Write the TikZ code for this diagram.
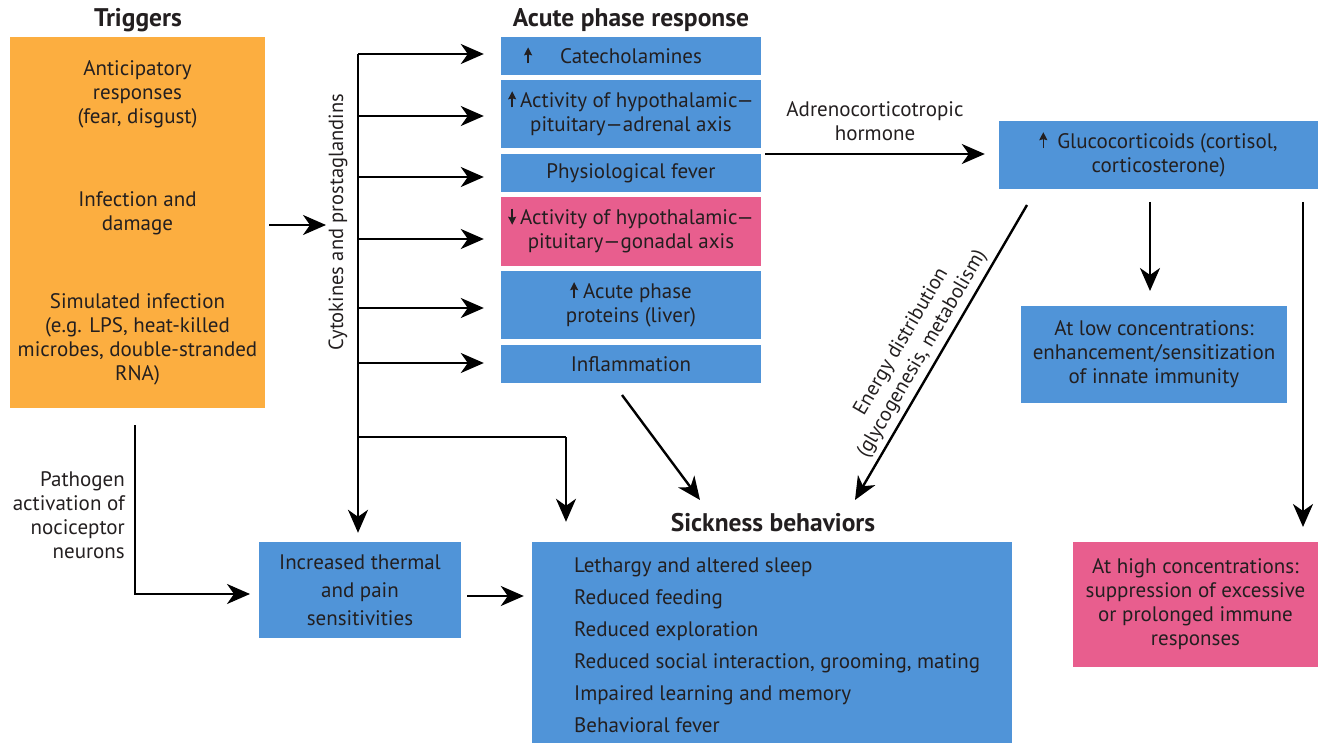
\documentclass[tikz,border=0pt]{standalone}
\usepackage{fontspec}
\setmainfont{PT Sans}
\usetikzlibrary{arrows.meta}
\definecolor{orangebox}{HTML}{FCAE40}
\definecolor{bluebox}{HTML}{5094D8}
\definecolor{pinkbox}{HTML}{E85E8E}
\definecolor{txt}{HTML}{231F20}
\newcommand\uparr{\smash{\tikz[baseline=0pt]\draw[line width=1.4pt,-{Stealth[length=8pt,width=8pt,inset=1pt]}] (0pt,0pt)--(0pt,16pt);}}
\newcommand\dnarr{\smash{\tikz[baseline=0pt]\draw[line width=1.4pt,-{Stealth[length=8pt,width=8pt,inset=1pt]}] (0pt,16pt)--(0pt,0pt);}}
\tikzset{
  box/.style={rectangle, inner sep=0pt, align=center, text=txt},
  lbl/.style={align=center, text=txt, inner sep=0pt},
  title/.style={font=\fontsize{25.5}{28}\selectfont\bfseries, text=txt, inner sep=0pt},
  ln/.style={line width=2.4pt},
  arr/.style={line width=2.4pt, -{Stealth[length=23pt,width=20pt,inset=7pt]}},
}
\begin{document}
\begin{tikzpicture}[x=1pt,y=-1pt,font=\fontsize{21}{24}\selectfont]
\useasboundingbox (0,0) rectangle (1318,743);
% titles
\node[title] (ttrig) at (138,20) {Triggers};
\node[title] (tacute) at (631,20) {Acute phase response};
\node[title] (tsick) at (773,523) {Sickness behaviors};
% triggers
\node[box, fill=orangebox, minimum width=255pt, minimum height=371pt] (trig) at (137.5,222.5) {};
\node[lbl] (trigA) at (137.5,94) {Anticipatory\\responses\\(fear, disgust)};
\node[lbl] (trigB) at (137.5,213) {Infection and\\damage};
\node[lbl] (trigC) at (137.5,339) {Simulated infection\\(e.g. LPS, heat-killed\\microbes, double-stranded\\RNA)};
% acute phase boxes
\node[box, fill=bluebox, minimum width=260pt, minimum height=38pt] (cat) at (631,56) {\makebox[0pt][r]{\uparr\hspace{28pt}}Catecholamines};
\node[box, fill=bluebox, minimum width=260pt, minimum height=68pt] (hpa) at (631,114) {\uparr\hspace{4pt}Activity of hypothalamic—\\pituitary—adrenal axis};
\node[box, fill=bluebox, minimum width=260pt, minimum height=38pt] (fev) at (631,173) {Physiological fever};
\node[box, fill=pinkbox, minimum width=260pt, minimum height=69pt] (hpg) at (631,231.5) {\dnarr\hspace{4pt}Activity of hypothalamic—\\pituitary—gonadal axis};
\node[box, fill=bluebox, minimum width=260pt, minimum height=68pt] (app) at (631,305) {\uparr\hspace{5pt}Acute phase\\proteins (liver)};
\node[box, fill=bluebox, minimum width=260pt, minimum height=38pt] (inf) at (631,364) {Inflammation};
% glucocorticoids
\node[lbl] (acth) at (875,121.5) {Adrenocorticotropic\\hormone};
\node[box, fill=bluebox, minimum width=319pt, minimum height=68pt] (glu) at (1158.5,155) {\uparr\hspace{10pt}Glucocorticoids (cortisol,\\corticosterone)};
\node[box, fill=bluebox, minimum width=266pt, minimum height=97pt] (low) at (1154,354.5) {At low concentrations:\\enhancement/sensitization\\of innate immunity};
\node[box, fill=pinkbox, minimum width=245pt, minimum height=125pt] (high) at (1195.5,604.5) {At high concentrations:\\suppression of excessive\\or prolonged immune\\responses};
% sickness
\node[box, fill=bluebox, minimum width=480pt, minimum height=201pt] (sick) at (772,642.5) {};
\node[lbl, anchor=west, align=left, font=\fontsize{21}{32}\selectfont] (sicktext) at (574,645.5) {Lethargy and altered sleep\\Reduced feeding\\Reduced exploration\\Reduced social interaction, grooming, mating\\Impaired learning and memory\\Behavioral fever};
\node[box, fill=bluebox, minimum width=202pt, minimum height=96pt, font=\fontsize{21}{28}\selectfont] (therm) at (360,590) {Increased thermal\\and pain\\sensitivities};
\node[lbl, anchor=east, align=right] (path) at (125,515) {Pathogen\\activation of\\nociceptor\\neurons};
% rotated labels
\node[lbl, rotate=90, font=\fontsize{20.5}{24}\selectfont] (cyto) at (338,222) {Cytokines and prostaglandins};
\node[lbl, rotate=59.7, font=\fontsize{20.5}{24}\selectfont] (elab) at (912,348) {Energy distribution\\(glycogenesis, metabolism)};
% coordinates
\coordinate (b1) at (358,54);
\coordinate (b2) at (358,116);
\coordinate (b3) at (358,177);
\coordinate (b4) at (358,239);
\coordinate (b5) at (358,308);
\coordinate (b6) at (358,363);
\coordinate (b7) at (358,437);
\coordinate (c7) at (566,437);
\coordinate (ta) at (269,225);
\coordinate (tb) at (326,225);
\coordinate (p0) at (135,425);
\coordinate (p1) at (250,594);
% connectors
\draw[arr] (ta) -- (tb);
\draw[arr] (b1) -- (b1 |- therm.north) [shorten >=9pt];
\foreach \b/\t in {b1/cat,b2/hpa,b3/fev,b4/hpg,b5/app,b6/inf}
  \draw[arr, shorten >=17pt] (\b) -- (\b -| \t.west);
\draw[ln] (b7) -- (c7);
\draw[arr, shorten >=20pt] (c7) -- (c7 |- sick.north);
\draw[arr] (p0) |- (p1);
\draw[arr] ([xshift=6pt]therm.east |- 0,596) -- ([xshift=-8pt]sick.west |- 0,596);
\draw[arr] (622,395) -- (700,500);
\draw[arr] (1027,205) -- (855,500);
\draw[arr] ([xshift=4pt]hpa.east |- 0,154) -- ([xshift=-14pt]glu.west |- 0,154);
\draw[arr] (1150,202) -- (1150,291);
\draw[arr] (1303,202) -- (1303,527);
\end{tikzpicture}
\end{document}
